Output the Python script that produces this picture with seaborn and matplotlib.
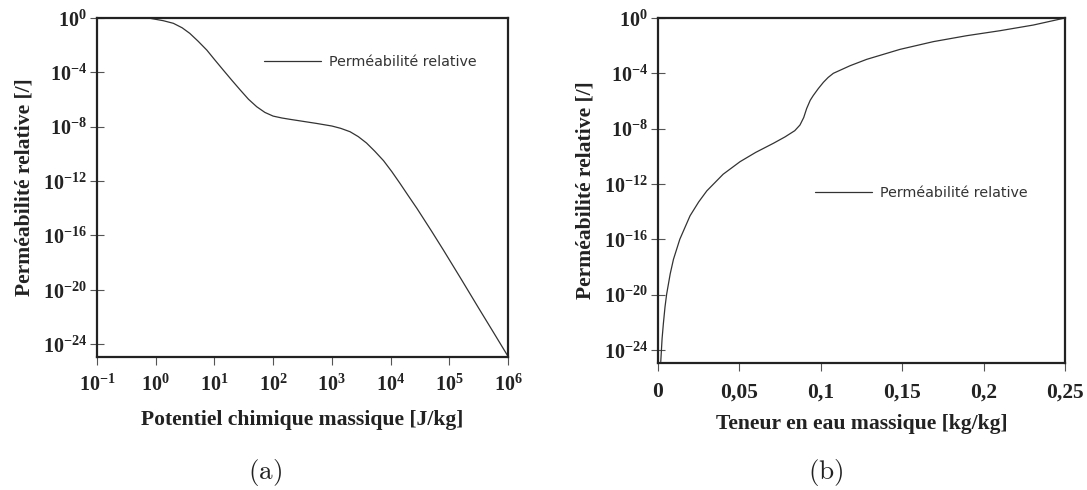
import numpy as np
import pandas as pd
import seaborn as sns
import matplotlib
matplotlib.use("Agg")
import matplotlib.pyplot as plt
from matplotlib.ticker import FixedLocator, FixedFormatter

# (a) relative permeability vs mass chemical potential (log10 values)
log_mu = [-1.0, -0.5, -0.1, 0.13, 0.30, 0.45, 0.58, 0.72, 0.87, 1.0, 1.15,
          1.30, 1.44, 1.58, 1.72, 1.86, 2.0, 2.15, 2.29, 2.5, 2.74, 3.0,
          3.15, 3.31, 3.45, 3.59, 3.73, 3.88, 4.02, 4.16, 4.30, 4.45, 4.7,
          4.9, 5.2, 5.5, 5.75, 6.0]
log_kr_mu = [0.0, 0.0, -0.02, -0.2, -0.39, -0.72, -1.13, -1.70, -2.36, -3.05,
             -3.83, -4.60, -5.30, -5.98, -6.53, -6.95, -7.22, -7.36, -7.46,
             -7.60, -7.76, -7.95, -8.12, -8.37, -8.73, -9.20, -9.80, -10.50,
             -11.30, -12.17, -13.07, -14.02, -15.70, -17.08, -19.20, -21.35,
             -23.12, -24.9]

# (b) relative permeability vs mass water content
w = [0.0017, 0.0025, 0.0033, 0.0043, 0.0053, 0.0075, 0.0095, 0.0134, 0.0197,
     0.025, 0.030, 0.035, 0.040, 0.0504, 0.060, 0.0709, 0.078, 0.0840,
     0.0872, 0.0895, 0.0913, 0.0935, 0.0954, 0.0985, 0.1016, 0.1045, 0.1077,
     0.118, 0.1282, 0.1486, 0.1691, 0.1896, 0.210, 0.2305, 0.25]
log_kr_w = [-24.85, -23.2, -22.1, -20.9, -19.98, -18.5, -17.45, -16.0, -14.3,
            -13.3, -12.5, -11.9, -11.3, -10.39, -9.72, -9.06, -8.6, -8.15,
            -7.74, -7.2, -6.55, -5.95, -5.6, -5.1, -4.65, -4.3, -4.0,
            -3.45, -2.99, -2.27, -1.71, -1.28, -0.92, -0.51, 0.0]

ytick_exp = [0, -4, -8, -12, -16, -20, -24]
xtick_exp = [-1, 0, 1, 2, 3, 4, 5, 6]
xtick_w = [0, 0.05, 0.1, 0.15, 0.2, 0.25]
xtick_w_labels = ["0", "0,05", "0,1", "0,15", "0,2", "0,25"]

legend_label = "Perméabilité relative"
ylabel = "Perméabilité relative [/]"
xlabel_a = "Potentiel chimique massique [J/kg]"
xlabel_b = "Teneur en eau massique [kg/kg]"

sns.set_theme(style="white")
plt.rcParams["font.family"] = ["DejaVu Sans"]
plt.rcParams["mathtext.fontset"] = "custom"
plt.rcParams["mathtext.rm"] = "Liberation Serif:bold"
plt.rcParams["mathtext.bf"] = "Liberation Serif:bold"
plt.rcParams["mathtext.it"] = "Liberation Serif:bold:italic"

df_a = pd.DataFrame({"mu": 10.0 ** np.array(log_mu),
                     "kr": 10.0 ** np.array(log_kr_mu)})
df_b = pd.DataFrame({"w": w, "kr": 10.0 ** np.array(log_kr_w)})

fig = plt.figure(figsize=(10.87, 4.90), dpi=100)
ax_a = fig.add_axes([97 / 1087, 1 - 357 / 490, (508 - 97) / 1087, (357 - 18) / 490])
ax_b = fig.add_axes([658 / 1087, 1 - 363 / 490, (1065 - 658) / 1087, (363 - 18) / 490])

line_color = "#333333"
spine_color = "#222222"
tick_color = "#555555"
text_color = "#222222"
serif_bold = dict(family="Liberation Serif", weight="bold", size=15.6, color=text_color)

sns.lineplot(data=df_a, x="mu", y="kr", ax=ax_a, color=line_color, lw=0.9,
             label=legend_label, sort=False)
sns.lineplot(data=df_b, x="w", y="kr", ax=ax_b, color=line_color, lw=0.9,
             label=legend_label, sort=False)

ax_a.set_xscale("log")
ax_a.set_yscale("log")
ax_b.set_yscale("log")
ax_a.set_xlim(1e-1, 1e6)
ax_b.set_xlim(0, 0.25)
for ax in (ax_a, ax_b):
    ax.set_ylim(10 ** -24.95, 1.0)

def math_label(e):
    return r"$\mathbf{10^{%d}}$" % e

for ax in (ax_a, ax_b):
    ax.yaxis.set_major_locator(FixedLocator([10.0 ** e for e in ytick_exp]))
    ax.yaxis.set_major_formatter(FixedFormatter([math_label(e) for e in ytick_exp]))
    ax.yaxis.set_minor_locator(FixedLocator([]))
    ax.xaxis.set_minor_locator(FixedLocator([]))
    for s in ax.spines.values():
        s.set_visible(True)
        s.set_color(spine_color)
        s.set_linewidth(1.6)
    ax.tick_params(axis="y", which="major", direction="inout", length=10,
                   width=0.8, color=tick_color, pad=2, left=True)
    ax.tick_params(axis="x", which="major", direction="out", length=6,
                   width=0.8, color=tick_color, pad=6, bottom=True)
    ax.set_ylabel(ylabel, fontdict=serif_bold, labelpad=6)
    ax.set_facecolor("white")

ax_a.xaxis.set_major_locator(FixedLocator([10.0 ** e for e in xtick_exp]))
ax_a.xaxis.set_major_formatter(FixedFormatter([math_label(e) for e in xtick_exp]))
ax_b.xaxis.set_major_locator(FixedLocator(xtick_w))
ax_b.xaxis.set_major_formatter(FixedFormatter(xtick_w_labels))
ax_b.tick_params(axis="x", pad=8)

ax_a.set_xlabel(xlabel_a, fontdict=serif_bold, labelpad=11)
ax_b.set_xlabel(xlabel_b, fontdict=serif_bold, labelpad=8.5)

for ax in (ax_a, ax_b):
    for lab in ax.get_xticklabels() + ax.get_yticklabels():
        lab.set_math_fontfamily("custom")
        lab.set_fontsize(14.5)
        lab.set_color(text_color)
for lab in ax_b.get_xticklabels():
    lab.set_family("Liberation Serif")
    lab.set_weight("bold")
    lab.set_fontsize(15.5)

# frameless legends
leg_a = ax_a.legend(loc="upper left", bbox_to_anchor=(0.375, 0.93), frameon=False,
                    fontsize=10.3, handlelength=4.0, handletextpad=0.55)
leg_b = ax_b.legend(loc="upper left", bbox_to_anchor=(0.353, 0.55), frameon=False,
                    fontsize=10.3, handlelength=4.0, handletextpad=0.55)
for leg in (leg_a, leg_b):
    for t in leg.get_texts():
        t.set_color("#333333")
    for h in leg.get_lines():
        h.set_linewidth(0.9)

fig.text(264.5 / 1087, 1 - 472 / 490, r"$\mathrm{(a)}$", ha="center", va="center",
         fontsize=19.5, math_fontfamily="cm", color=text_color)
fig.text(826 / 1087, 1 - 472 / 490, r"$\mathrm{(b)}$", ha="center", va="center",
         fontsize=19.5, math_fontfamily="cm", color=text_color)

fig.savefig("out.png", dpi=100, facecolor="white")
